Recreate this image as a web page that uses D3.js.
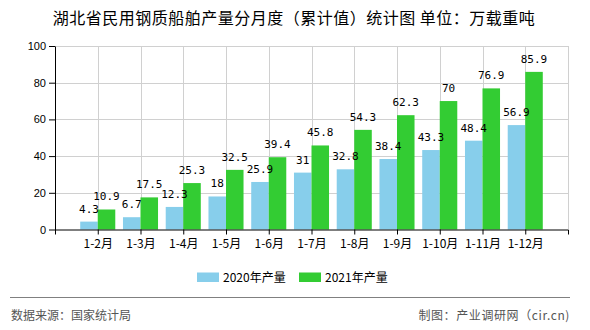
<!DOCTYPE html>
<html><head><meta charset="utf-8">
<script src="https://cdn.jsdelivr.net/npm/d3@7"></script>
<style>
html,body{margin:0;padding:0;background:#fff;}
svg{display:block;}
</style></head>
<body>
<svg id="chart" width="590" height="330"></svg>
<script>
const categories = ["1-2月","1-3月","1-4月","1-5月","1-6月","1-7月","1-8月","1-9月","1-10月","1-11月","1-12月"];
const values2020 = [4.3, 6.7, 12.3, 18, 25.9, 31, 32.8, 38.4, 43.3, 48.4, 56.9];
const values2021 = [10.9, 17.5, 25.3, 32.5, 39.4, 45.8, 54.3, 62.3, 70, 76.9, 85.9];
const seriesNames = ["2020年产量", "2021年产量"];
const seriesColors = ["#87CEEB", "#33CC33"];
const yTicks = [0, 20, 40, 60, 80, 100];
const titleText = "湖北省民用钢质船舶产量分月度（累计值）统计图 单位：万载重吨";
const sourceText = "数据来源：国家统计局";
const creditText = "制图：产业调研网（cir.cn)";

(function () {
const svg = d3.select("#chart");
const pL = 55, pR = 568, pT = 46, pB = 229.5;
const cjk = "'Noto Sans CJK SC', 'Noto Sans', sans-serif";

const x = d3.scalePoint().domain(categories).range([pL, pR]).padding(1);
const y = d3.scaleLinear().domain([0, 100]).range([pB, pT]);
const barW = x.step() * 0.41;

// title
svg.append("text").attr("x", 294).attr("y", 23.5).attr("text-anchor", "middle")
  .style("font-family", cjk).style("font-size", "16px").style("letter-spacing", "0.5px").attr("fill", "#000")
  .text(titleText);

// grid
const grid = svg.append("g").attr("stroke", "#d0d0d0").attr("stroke-width", 1);
yTicks.filter(d => d > 0).forEach(d => {
  grid.append("line").attr("x1", pL).attr("x2", pR)
    .attr("y1", Math.round(y(d)) + 0.5).attr("y2", Math.round(y(d)) + 0.5);
});
categories.forEach(c => {
  grid.append("line").attr("x1", Math.round(x(c)) + 0.5).attr("x2", Math.round(x(c)) + 0.5)
    .attr("y1", pT).attr("y2", pB);
});
grid.append("line").attr("x1", pR + 0.5).attr("x2", pR + 0.5).attr("y1", pT).attr("y2", pB);

// bars
const series = [values2020, values2021];
series.forEach((vals, si) => {
  svg.append("g").selectAll("rect").data(vals).join("rect")
    .attr("x", (d, i) => x(categories[i]) - (si === 0 ? barW : 0))
    .attr("y", d => y(d))
    .attr("width", barW)
    .attr("height", d => y(0) - y(d))
    .attr("fill", seriesColors[si]);
});
series.forEach((vals, si) => {
  svg.append("g").selectAll("text").data(vals).join("text")
    .attr("x", (d, i) => x(categories[i]) + (si === 0 ? -barW / 2 : barW / 2))
    .attr("y", d => y(d) - 9)
    .attr("text-anchor", "middle")
    .style("font-family", "'DejaVu Sans Mono', monospace").style("font-size", "11px")
    .attr("fill", "#000")
    .text(d => d);
});

// axes
const yAxis = svg.append("g").attr("transform", `translate(${pL},0)`)
  .call(d3.axisLeft(y).tickValues(yTicks).tickSize(6).tickSizeOuter(0).tickPadding(3));
yAxis.selectAll("text").style("font-family", "'Liberation Sans', Arial, sans-serif").style("font-size", "11px").attr("fill", "#000");
yAxis.selectAll("line,path").attr("stroke", "#000");

const xAxis = svg.append("g").attr("transform", `translate(0,${pB})`)
  .call(d3.axisBottom(x).tickSize(5).tickSizeOuter(5).tickPadding(5));
xAxis.selectAll("text").style("font-family", cjk).style("font-size", "12px").attr("fill", "#000");
xAxis.selectAll("line,path").attr("stroke", "#000");

// legend
const legendX = [197, 299];
seriesNames.forEach((n, i) => {
  svg.append("rect").attr("x", legendX[i]).attr("y", 272.5).attr("width", 22).attr("height", 9.5).attr("fill", seriesColors[i]);
  svg.append("text").attr("x", legendX[i] + 26).attr("y", 281.5)
    .style("font-family", cjk).style("font-size", "12px").attr("fill", "#000").text(n);
});

// footer
svg.append("line").attr("x1", 10).attr("x2", 570).attr("y1", 297.5).attr("y2", 297.5).attr("stroke", "#808080").attr("stroke-width", 1);
svg.append("text").attr("x", 11).attr("y", 320).style("font-family", cjk).style("font-size", "12px").attr("fill", "#555").text(sourceText);
svg.append("text").attr("x", 570).attr("y", 320).attr("text-anchor", "end").style("font-family", cjk).style("font-size", "12px").style("letter-spacing", "0.6px").attr("fill", "#555").text(creditText);
})();
</script>
</body></html>
